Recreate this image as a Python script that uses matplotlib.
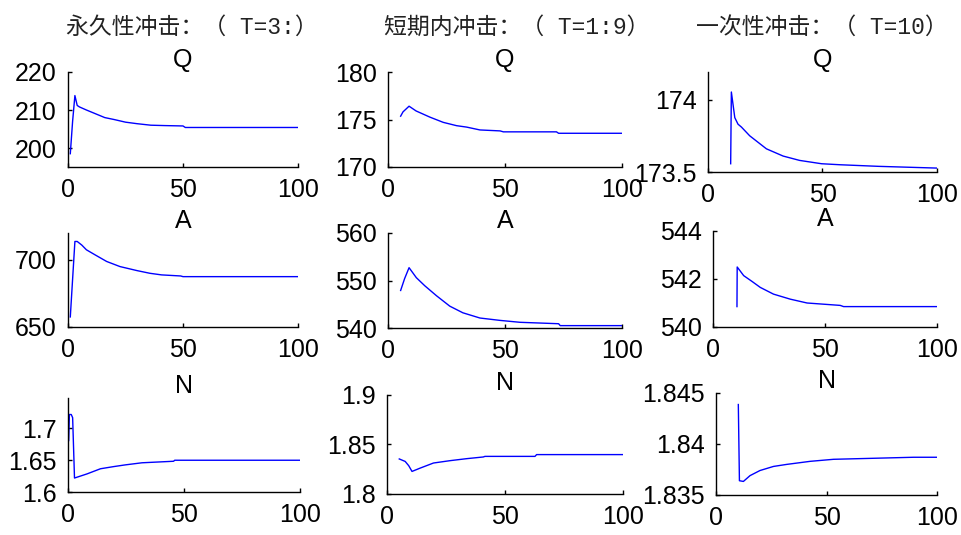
import matplotlib
matplotlib.use("Agg")
import matplotlib.pyplot as plt
from matplotlib.ticker import FormatStrFormatter

# --- data (breakpoints of each response curve) ---

headers = ["永久性冲击：（ T=3:）", "短期内冲击：（ T=1:9）", "一次性冲击：（ T=10）"]
row_titles = ["Q", "A", "N"]

# permanent shock (T=3)
q1_x = [1, 2, 3, 4, 5, 8, 12, 16, 20, 25, 30, 36, 42, 50, 51, 100]
q1_y = [198.5, 207, 213.8, 211.2, 210.8, 210, 209, 208, 207.5, 206.8, 206.4, 206, 205.9, 205.8, 205.4, 205.4]
a1_x = [1, 3, 4, 6, 8, 11.7, 16.8, 22.6, 30, 35.6, 40.7, 49, 50, 100]
a1_y = [657.5, 713.7, 713.7, 711, 707.5, 703.8, 698.8, 695, 692, 690, 688.8, 688, 687.5, 687.5]
n1_x = [0.3, 0.6, 1.4, 2.0, 2.8, 8.2, 14, 19.7, 24.7, 31.9, 45.5, 46, 100]
n1_y = [1.681, 1.722, 1.722, 1.717, 1.622, 1.6285, 1.6366, 1.640, 1.6427, 1.646, 1.6484, 1.650, 1.650]

# short-run shock (T=1:9)
q2_x = [5.4, 6.4, 9, 12, 17.9, 23.6, 29.3, 33.6, 39.3, 47.9, 49.3, 72, 72.9, 100]
q2_y = [175.35, 175.8, 176.4, 175.9, 175.25, 174.7, 174.35, 174.2, 173.9, 173.8, 173.7, 173.7, 173.55, 173.55]
a2_x = [5.4, 7.1, 9, 12.1, 15.7, 20.7, 26.4, 32, 39.3, 47.9, 56.4, 72.9, 73.6, 100]
a2_y = [547.9, 550.4, 552.7, 550.6, 548.9, 546.8, 544.6, 543.2, 542.1, 541.6, 541.2, 540.9, 540.5, 540.5]
n2_x = [5.2, 7.7, 9.2, 10.6, 14.1, 19.7, 26.8, 33.8, 40.8, 41.5, 62.7, 63.4, 100]
n2_y = [1.8354, 1.8329, 1.8286, 1.8228, 1.8262, 1.8313, 1.8337, 1.8357, 1.8374, 1.838, 1.838, 1.8398, 1.8398]

# one-off shock (T=10)
q3_x = [9.9, 10.2, 11.7, 13.1, 14.6, 18.2, 25.5, 32.8, 40, 49.6, 57.7, 74.5, 100]
q3_y = [173.557, 174.052, 173.875, 173.83, 173.81, 173.75, 173.66, 173.61, 173.58, 173.557, 173.55, 173.539, 173.527]
a3_x = [10.7, 10.8, 13.7, 17.4, 21.1, 27, 34.5, 42, 49.4, 56.8, 58.3, 100]
a3_y = [540.85, 542.5, 542.14, 541.9, 541.65, 541.37, 541.16, 541.0, 540.95, 540.9, 540.85, 540.85]
n3_x = [10.1, 10.6, 12.4, 15.4, 19.9, 26, 32, 42.6, 53.2, 89.4, 100]
n3_y = [1.84387, 1.8364, 1.83633, 1.8369, 1.8374, 1.8378, 1.8380, 1.8383, 1.8385, 1.8387, 1.8387]

series = [
    [(q1_x, q1_y), (q2_x, q2_y), (q3_x, q3_y)],
    [(a1_x, a1_y), (a2_x, a2_y), (a3_x, a3_y)],
    [(n1_x, n1_y), (n2_x, n2_y), (n3_x, n3_y)],
]

y_limits = [
    [(195, 220), (170, 180), (173.5, 174.19)],
    [(650, 720), (540, 560), (540, 544)],
    [(1.6, 1.748), (1.8, 1.9), (1.835, 1.845)],
]
y_ticks = [
    [[200, 210, 220], [170, 175, 180], [173.5, 174]],
    [[650, 700], [540, 550, 560], [540, 542, 544]],
    [[1.6, 1.65, 1.7], [1.8, 1.85, 1.9], [1.835, 1.84, 1.845]],
]

# axes boxes in pixels: left, top, right, bottom
boxes = [
    [(68, 72, 298, 167), (388, 72, 622, 167), (708, 72, 937, 172)],
    [(68, 233, 298, 327), (388, 233, 622, 328), (713, 231, 937, 327)],
    [(68, 398, 300, 492), (387, 395, 623, 494), (716, 393, 937, 495)],
]

W, H = 962, 535
fig = plt.figure(figsize=(W / 100, H / 100), dpi=100)

header_x = [192, 517, 822]
for hx, text in zip(header_x, headers):
    fig.text(hx / W, 1 - 27 / H, text, ha="center", va="center", fontsize=16.5,
             family=["Liberation Mono", "Noto Sans CJK SC"], color="#222222")

for r in range(3):
    for c in range(3):
        l, t, rr, b = boxes[r][c]
        ax = fig.add_axes([l / W, 1 - b / H, (rr - l) / W, (b - t) / H])
        x, y = series[r][c]
        ax.plot(x, y, color="#0000ff", lw=1.0)
        ax.set_xlim(0, 100)
        ax.set_ylim(*y_limits[r][c])
        ax.set_xticks([0, 50, 100])
        ax.set_yticks(y_ticks[r][c])
        ax.yaxis.set_major_formatter(FormatStrFormatter("%g"))
        for s in ["top", "right"]:
            ax.spines[s].set_visible(False)
        for s in ["left", "bottom"]:
            ax.spines[s].set_linewidth(1.0)
        ax.tick_params(direction="in", length=3, width=1, labelsize=18, pad=8)
        for lab in ax.get_xticklabels() + ax.get_yticklabels():
            lab.set_family("Liberation Sans")
        ax.set_title(row_titles[r], fontsize=18, family="Liberation Sans", pad=3)
        ax.patch.set_alpha(0)

fig.savefig("out.png", dpi=100)
